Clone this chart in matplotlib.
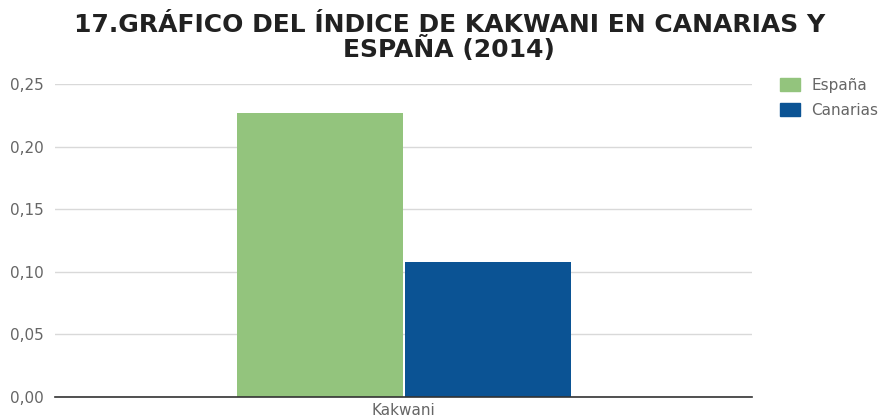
import matplotlib
matplotlib.use("Agg")
import matplotlib.pyplot as plt
from matplotlib.patches import Patch

plt.rcParams['font.family'] = ['DejaVu Sans']

categories = ["Kakwani"]
series_names = ["España", "Canarias"]
espana = [0.227]
canarias = [0.108]
y_ticks = [0.00, 0.05, 0.10, 0.15, 0.20, 0.25]
colors = ["#93C47D", "#0B5394"]

fig = plt.figure(figsize=(8.86, 4.16), dpi=100)
ax = fig.add_axes([0.062, 0.0457, 0.787, 0.7523])

width = 0.238
gap = 0.0015
x = list(range(len(categories)))
ax.bar([xi - width / 2 - gap for xi in x], espana, width=width, color=colors[0], zorder=3)
ax.bar([xi + width / 2 + gap for xi in x], canarias, width=width, color=colors[1], zorder=3)

ax.set_xlim(-0.5, 0.5)
ax.set_ylim(0, 0.25)
ax.set_yticks(y_ticks)
ax.set_yticklabels([f"{v:.2f}".replace(".", ",") for v in y_ticks])
ax.set_xticks(x)
ax.set_xticklabels(categories)
ax.tick_params(axis='both', length=0, labelsize=11, labelcolor="#666666")
ax.tick_params(axis='x', pad=4)
ax.tick_params(axis='y', pad=8)
ax.grid(axis='y', color="#d9d9d9", linewidth=1, zorder=0)
for side in ["top", "right", "left"]:
    ax.spines[side].set_visible(False)
ax.spines["bottom"].set_color("#333333")
ax.spines["bottom"].set_linewidth(1.2)
ax.spines["bottom"].set_zorder(4)

fig.text(0.507, 0.968, "17.GRÁFICO DEL ÍNDICE DE KAKWANI EN CANARIAS Y\nESPAÑA (2014)",
         ha="center", va="top", fontsize=18, fontweight="bold", color="#212121",
         linespacing=0.95)

handles = [Patch(facecolor=c, edgecolor=c) for c in colors]
leg = fig.legend(handles, series_names, loc="upper left", bbox_to_anchor=(0.868, 0.838),
                 frameon=False, fontsize=11, handlelength=1.3, handleheight=0.9,
                 handletextpad=0.75, labelspacing=0.65, borderpad=0.2)
for t in leg.get_texts():
    t.set_color("#666666")

fig.savefig("out.png", dpi=100)
